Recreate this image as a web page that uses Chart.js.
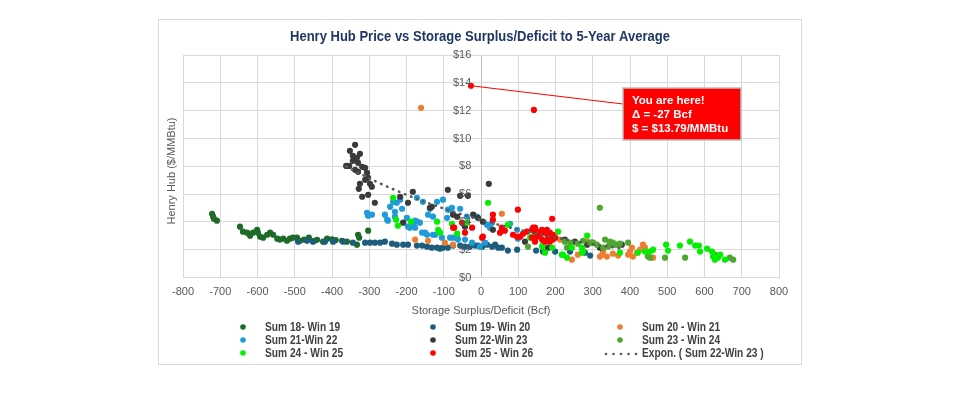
<!DOCTYPE html>
<html>
<head>
<meta charset="utf-8">
<script src="https://cdn.jsdelivr.net/npm/chart.js@4/dist/chart.umd.min.js"></script>
<style>
    html, body { margin: 0; padding: 0; background: #fff; }
    #frame { position: absolute; left: 158px; top: 19px; width: 642px; height: 344px; border: 1px solid #d9d9d9; }
    #chart { position: absolute; left: 158px; top: 19px; }
</style>
</head>
<body>
<div id="frame"></div>
<canvas id="chart" width="644" height="346"></canvas>
<script>
// [storage surplus/deficit (Bcf), Henry Hub ($/MMBtu)]
const sum1819 = [
    [-722, 4.59], [-719, 4.38], [-717, 4.23], [-709, 4.09], [-647, 3.66], [-639, 3.30], [-628, 3.23],
    [-620, 3.01], [-612, 3.23], [-601, 3.44], [-599, 3.23], [-593, 2.94], [-585, 2.87], [-574, 3.08],
    [-566, 3.23], [-558, 3.08], [-547, 2.80], [-540, 2.73], [-531, 2.80], [-521, 2.65], [-513, 2.80],
    [-505, 2.87], [-494, 2.87], [-486, 2.65], [-475, 2.73], [-462, 2.87], [-448, 2.65], [-440, 2.72],
    [-424, 2.58], [-413, 2.80], [-400, 2.75], [-390, 2.70], [-373, 2.65], [-360, 2.58], [-333, 2.37],
    [-330, 3.08], [-327, 2.87], [-303, 3.37]
];
const sum1920 = [
    [-491, 2.58], [-467, 2.65], [-451, 2.58], [-419, 2.58], [-397, 2.58], [-370, 2.58], [-344, 2.51],
    [-311, 2.51], [-298, 2.51], [-285, 2.51], [-271, 2.51], [-258, 2.58], [-239, 2.44], [-226, 2.37],
    [-209, 2.37], [-196, 2.37], [-172, 2.30], [-158, 2.30], [-145, 2.22], [-132, 2.15], [-118, 2.15],
    [-110, 2.08], [-102, 2.15], [-89, 2.15], [-75, 2.30], [-56, 2.30], [-43, 2.22], [-30, 2.22],
    [-16, 2.30], [-8, 2.30], [3, 2.22], [16, 2.37], [30, 2.22], [38, 2.37], [46, 2.15], [56, 2.15],
    [72, 1.94], [97, 2.01], [148, 1.94], [166, 1.87], [199, 1.87], [239, 1.87], [279, 1.79], [293, 1.58]
];
const sum2021 = [
    [-161, 12.20], [-177, 2.73], [-142, 2.65], [-97, 2.51], [-75, 2.37], [56, 4.59], [212, 2.73],
    [244, 1.29], [260, 1.65], [285, 2.58], [319, 1.51], [325, 1.65], [328, 1.87], [338, 1.51],
    [354, 1.72], [368, 1.58], [395, 1.65], [400, 1.87], [405, 2.15], [408, 1.51], [419, 1.79],
    [427, 2.01], [435, 2.37], [440, 2.15], [446, 1.87], [462, 1.43]
];
const sum2122 = [
    [-306, 4.66], [-293, 4.52], [-303, 4.45], [-258, 4.52], [-250, 4.09], [-244, 5.09], [-236, 5.45],
    [-231, 4.73], [-226, 5.38], [-217, 5.60], [-212, 4.95], [-252, 4.16], [-231, 4.38], [-199, 4.30],
    [-196, 3.66], [-191, 3.59], [-183, 3.80], [-177, 4.09], [-172, 4.02], [-164, 3.95], [-177, 3.59],
    [-172, 5.74], [-156, 5.45], [-150, 3.23], [-145, 3.08], [-129, 3.08], [-158, 3.23], [-142, 4.52],
    [-137, 4.95], [-118, 5.45], [-102, 5.60], [-129, 4.38], [-91, 4.30], [-89, 4.88], [-83, 4.88],
    [-78, 5.02], [-56, 4.95], [-48, 3.87], [-38, 4.38], [-11, 4.38], [16, 3.80], [30, 3.95], [24, 3.59],
    [-123, 3.08], [-105, 2.87], [-83, 2.87], [-75, 2.87], [-64, 2.87], [-62, 2.73], [-43, 2.73],
    [-24, 2.51], [-3, 2.22], [11, 2.51], [78, 3.87], [97, 3.44], [99, 2.80]
];
const sum2223 = [
    [-338, 9.54], [-352, 9.11], [-344, 8.75], [-362, 8.03], [-354, 8.03], [-344, 8.39], [-333, 8.61],
    [-325, 8.90], [-330, 8.25], [-319, 7.96], [-338, 7.75], [-330, 7.60], [-311, 7.89], [-306, 7.53],
    [-303, 7.17], [-298, 6.74], [-311, 7.03], [-325, 6.74], [-328, 6.38], [-319, 5.81], [-303, 5.95],
    [-293, 6.53], [-285, 5.38], [-217, 5.81], [-183, 6.17], [-196, 5.38], [-209, 3.95], [-137, 5.02],
    [-132, 5.09], [-89, 6.31], [-75, 4.52], [-64, 4.38], [-56, 5.88], [-35, 5.88], [-21, 4.52],
    [-8, 4.30], [5, 4.02], [-43, 3.66], [21, 6.74], [32, 3.44], [118, 2.58], [145, 3.23], [180, 2.15],
    [225, 2.73], [252, 2.58], [285, 2.37], [298, 2.51], [319, 2.15], [346, 2.44], [378, 2.37]
];
const sum2324 = [
    [319, 5.02], [126, 2.22], [225, 2.58], [231, 2.15], [239, 2.51], [260, 2.44], [274, 2.65],
    [293, 2.51], [301, 2.51], [311, 2.37], [328, 2.15], [333, 2.73], [341, 2.22], [346, 2.58],
    [354, 2.51], [360, 2.37], [365, 2.37], [373, 2.44], [395, 2.51], [448, 1.51], [454, 1.43],
    [494, 1.43], [548, 1.43], [628, 1.65], [668, 1.43], [677, 1.29]
];
const sum2425 = [
    [-236, 5.74], [-228, 4.16], [-223, 3.73], [-188, 4.02], [-118, 4.02], [-115, 3.44], [-110, 3.23],
    [-78, 3.87], [-64, 3.16], [-38, 3.95], [19, 5.38], [72, 3.80], [132, 2.87], [137, 2.94], [145, 2.87],
    [164, 2.22], [166, 2.37], [172, 1.79], [191, 2.15], [207, 3.30], [217, 1.65], [220, 1.65],
    [231, 1.43], [244, 2.15], [271, 1.79], [271, 2.15], [274, 1.87], [285, 3.01], [373, 1.79],
    [421, 1.79], [440, 1.87], [454, 1.87], [462, 2.01], [497, 2.37], [502, 1.94], [534, 2.30],
    [561, 2.58], [575, 2.30], [585, 2.30], [588, 1.87], [607, 2.08], [620, 1.87], [623, 1.51],
    [628, 1.29], [636, 1.43], [642, 1.65], [655, 1.29]
];
const sum2526 = [
    [142, 12.05], [-75, 3.59], [-51, 3.95], [-72, 3.59], [-43, 3.23], [-24, 3.59], [3, 2.87], [5, 2.94],
    [32, 4.52], [32, 4.16], [51, 3.23], [56, 3.59], [64, 3.37], [86, 3.08], [97, 2.94], [105, 2.94],
    [99, 4.88], [113, 3.16], [123, 3.30], [137, 3.44], [145, 3.59], [153, 3.30], [164, 3.44],
    [172, 3.23], [180, 2.94], [191, 4.23], [158, 3.08], [140, 3.59], [166, 3.23], [177, 3.44],
    [185, 3.23], [193, 3.08], [137, 2.87], [145, 2.58], [164, 2.73], [172, 2.58], [185, 2.58],
    [193, 2.73], [180, 2.94], [199, 2.87], [150, 2.94], [-27, 13.79]
];

const seriesNames = ['Sum 18- Win 19', 'Sum 19- Win 20', 'Sum 20 - Win 21', 'Sum 21-Win 22',
    'Sum 22-Win 23', 'Sum 23 - Win 24', 'Sum 24 - Win 25', 'Sum 25 - Win 26'];
const seriesData = [sum1819, sum1920, sum2021, sum2122, sum2223, sum2324, sum2425, sum2526];
const seriesColors = ['#1e6b27', '#1c5d7e', '#ed7d31', '#1f9bd7', '#3a3a3a', '#4ea72e', '#00f000', '#ff0000'];

const xTicks = { min: -800, max: 800, step: 100 };
const yTicks = { min: 0, max: 16, step: 2 };
const trendName = 'Expon. ( Sum 22-Win 23 )';
const titleText = 'Henry Hub Price vs Storage Surplus/Deficit to 5-Year Average';

// exponential trendline fitted to Sum 22-Win 23, like Excel's "Expon." option
function expTrend(points, steps) {
    const n = points.length;
    let sx = 0, sy = 0, sxx = 0, sxy = 0;
    points.forEach(([x, y]) => {
        const ly = Math.log(y);
        sx += x; sy += ly; sxx += x * x; sxy += x * ly;
    });
    const b = (n * sxy - sx * sy) / (n * sxx - sx * sx);
    const a = Math.exp((sy - b * sx) / n);
    const xs = points.map(p => p[0]);
    const lo = Math.min(...xs), hi = Math.max(...xs);
    const out = [];
    for (let i = 0; i <= steps; i++) {
        const x = lo + (hi - lo) * i / steps;
        out.push({ x, y: a * Math.exp(b * x) });
    }
    return out;
}

const gray = '#595959';
const axisFont = { family: '"Liberation Sans", Arial, sans-serif', size: 11 };
const boldFont = '"Liberation Sans", Arial, sans-serif';

const datasets = seriesData.map((pts, i) => ({
    label: seriesNames[i],
    data: pts.map(([x, y]) => ({ x, y })),
    backgroundColor: seriesColors[i],
    borderColor: seriesColors[i],
    pointRadius: 3.1,
    pointBorderWidth: 0,
    order: 20 - i
}));
datasets.push({
    label: trendName,
    data: expTrend(sum2223, 90),
    showLine: true,
    borderColor: gray,
    borderWidth: 2.6,
    borderDash: [0.5, 6],
    borderCapStyle: 'round',
    pointRadius: 0,
    fill: false,
    order: 0
});

// draws text squeezed horizontally, the reference uses a condensed face
function narrowText(ctx, text, x, y, squeeze, align) {
    ctx.save();
    ctx.translate(x, y);
    ctx.scale(squeeze, 1);
    ctx.textAlign = align;
    ctx.fillText(text, 0, 0);
    ctx.restore();
}

const overlay = {
    id: 'overlay',
    afterDraw(chart) {
        const { ctx, scales } = chart;

        // title
        ctx.save();
        ctx.font = 'bold 15px ' + boldFont;
        const w = ctx.measureText(titleText).width;
        ctx.fillStyle = '#1f3864';
        ctx.textBaseline = 'middle';
        narrowText(ctx, titleText, 322, 18, Math.min(1, 380 / w), 'center');
        ctx.restore();

        // y axis title
        ctx.save();
        ctx.translate(14, 152);
        ctx.rotate(-Math.PI / 2);
        ctx.font = '11px ' + axisFont.family;
        ctx.fillStyle = gray;
        ctx.textAlign = 'center';
        ctx.textBaseline = 'middle';
        ctx.fillText('Henry Hub ($/MMBtu)', 0, 0);
        ctx.restore();

        // legend, 3 columns
        const colX = [85, 275, 462];
        const rowY = [308, 321, 334];
        ctx.save();
        ctx.font = 'bold 12px ' + boldFont;
        ctx.textBaseline = 'middle';
        chart.data.datasets.forEach((ds, i) => {
            const cx = colX[i % 3], cy = rowY[Math.floor(i / 3)];
            if (ds.showLine) {
                ctx.fillStyle = gray;
                for (let k = 0; k < 5; k++) {
                    ctx.beginPath();
                    ctx.arc(cx - 14 + k * 7.5, cy + 1, 1.3, 0, Math.PI * 2);
                    ctx.fill();
                }
            } else {
                ctx.fillStyle = ds.backgroundColor;
                ctx.beginPath();
                ctx.arc(cx, cy, 2.8, 0, Math.PI * 2);
                ctx.fill();
            }
            ctx.fillStyle = '#404040';
            narrowText(ctx, ds.label, cx + 22, cy + 1, 0.85, 'left');
        });
        ctx.restore();

        // "you are here" callout on the latest point
        const [hx, hy] = sum2526[sum2526.length - 1];
        const px = scales.x.getPixelForValue(hx);
        const py = scales.y.getPixelForValue(hy);
        const box = { x: 465, y: 69, w: 118, h: 52 };
        ctx.save();
        ctx.strokeStyle = '#ff0000';
        ctx.lineWidth = 1;
        ctx.beginPath();
        ctx.moveTo(px, py);
        ctx.lineTo(box.x, box.y + 16);
        ctx.stroke();
        ctx.fillStyle = '#ff0000';
        ctx.fillRect(box.x, box.y, box.w, box.h);
        ctx.strokeStyle = '#bfbfbf';
        ctx.lineWidth = 1.5;
        ctx.strokeRect(box.x, box.y, box.w, box.h);
        ctx.fillStyle = '#fff';
        ctx.font = 'bold 11.5px ' + boldFont;
        ctx.textBaseline = 'middle';
        ctx.fillText('You are here!', box.x + 9, box.y + 13);
        ctx.fillText('\u0394 = ' + hx + ' Bcf', box.x + 9, box.y + 27);
        ctx.fillText('$ = $' + hy.toFixed(2) + '/MMBtu', box.x + 9, box.y + 41);
        ctx.restore();
    }
};

new Chart(document.getElementById('chart'), {
    type: 'scatter',
    data: { datasets },
    options: {
        responsive: false,
        animation: false,
        events: [],
        layout: { padding: { left: 25, right: 23, top: 36, bottom: 47 } },
        scales: {
            x: {
                type: 'linear',
                min: xTicks.min,
                max: xTicks.max,
                ticks: { stepSize: xTicks.step, color: gray, font: axisFont, padding: 8 },
                grid: { color: ctx => ctx.tick.value === 0 ? '#bfbfbf' : '#d9d9d9', drawTicks: false },
                border: { color: '#d9d9d9' },
                title: {
                    display: true,
                    text: 'Storage Surplus/Deficit (Bcf)',
                    color: gray,
                    font: axisFont,
                    padding: { top: -2, bottom: 0 }
                }
            },
            y: {
                type: 'linear',
                // labels sit a little left of the x = 0 crossing, the crossing line itself comes from the x grid
                position: { x: -26 },
                min: yTicks.min,
                max: yTicks.max,
                ticks: { stepSize: yTicks.step, color: gray, font: axisFont, z: 1, callback: v => '$' + v },
                grid: { color: '#d9d9d9', drawTicks: false },
                border: { display: false }
            }
        },
        plugins: {
            legend: { display: false },
            tooltip: { enabled: false }
        }
    },
    plugins: [overlay]
});
</script>
</body>
</html>
